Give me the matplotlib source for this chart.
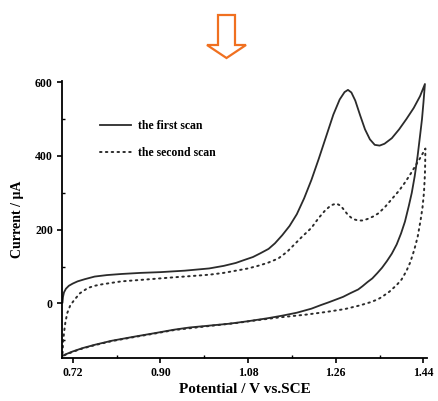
import numpy as np
import matplotlib
matplotlib.use("Agg")
import matplotlib.pyplot as plt
from matplotlib.patches import Polygon
from matplotlib.ticker import MultipleLocator

# first scan (solid): forward sweep then reverse sweep
v1_fwd = [0.699, 0.700, 0.702, 0.706, 0.712, 0.72, 0.73, 0.745, 0.765, 0.79, 0.82, 0.86,
          0.90, 0.95, 1.00, 1.03, 1.055, 1.07, 1.09, 1.105, 1.122, 1.135, 1.15, 1.165,
          1.18, 1.195, 1.21, 1.225, 1.24, 1.255, 1.268, 1.278, 1.285, 1.292, 1.30, 1.31,
          1.32, 1.33, 1.34, 1.35, 1.36, 1.375, 1.39, 1.405, 1.42, 1.433, 1.443]
i1_fwd = [3, 18, 30, 40, 48, 54, 60, 66, 73, 77, 80, 83,
          85, 89, 95, 102, 110, 117, 126, 136, 148, 163, 185, 210,
          242, 285, 335, 392, 452, 512, 553, 573, 579, 572, 550, 510,
          472, 445, 430, 428, 433, 448, 472, 500, 530, 562, 595]
v1_rev = [1.443, 1.440, 1.437, 1.433, 1.428, 1.422, 1.416, 1.41, 1.402, 1.394, 1.385, 1.375,
          1.365, 1.355, 1.345, 1.335, 1.325, 1.315, 1.306, 1.29, 1.275, 1.259, 1.245, 1.23,
          1.21, 1.18, 1.15, 1.12, 1.08, 1.04, 1.00, 0.96, 0.928, 0.89, 0.846, 0.80,
          0.765, 0.74, 0.72, 0.705, 0.699]
i1_rev = [595, 545, 500, 455, 400, 345, 300, 265, 222, 190, 160, 135,
          115, 97, 82, 68, 58, 47, 38, 28, 18, 10, 3, -4,
          -14, -25, -33, -40, -48, -55, -60, -65, -71, -80, -90, -101,
          -112, -121, -130, -138, -142]

# second scan (dotted)
v2_fwd = [0.699, 0.700, 0.702, 0.705, 0.709, 0.715, 0.724, 0.735, 0.751, 0.765, 0.78, 0.80,
          0.82, 0.87, 0.928, 0.97, 1.00, 1.03, 1.055, 1.08, 1.10, 1.12, 1.142, 1.16,
          1.175, 1.19, 1.21, 1.225, 1.238, 1.25, 1.261, 1.27, 1.278, 1.285, 1.295, 1.306,
          1.315, 1.325, 1.337, 1.347, 1.36, 1.375, 1.39, 1.401, 1.412, 1.423, 1.434, 1.444]
i2_fwd = [-135, -110, -80, -50, -25, -5, 11, 28, 42, 48, 52, 56,
          60, 65, 71, 75, 78, 83, 89, 95, 102, 110, 122, 140,
          160, 180, 205, 232, 252, 266, 271, 265, 252, 240, 229, 225,
          225, 229, 236, 244, 260, 283, 306, 326, 348, 372, 396, 420]
v2_rev = [1.444, 1.4435, 1.443, 1.441, 1.438, 1.434, 1.428, 1.421, 1.413, 1.405, 1.395, 1.385,
          1.37, 1.355, 1.346, 1.33, 1.31, 1.279, 1.24, 1.20, 1.142, 1.10, 1.055, 1.00,
          0.928, 0.89, 0.846, 0.80, 0.765, 0.74, 0.72, 0.705, 0.699]
i2_rev = [420, 380, 350, 300, 260, 225, 180, 145, 112, 88, 65, 50,
          32, 18, 11, 3, -5, -15, -23, -30, -38, -45, -53, -61,
          -72, -81, -91, -102, -113, -122, -131, -139, -143]

xticks = [0.72, 0.90, 1.08, 1.26, 1.44]
yticks = [0, 200, 400, 600]

plt.rcParams['font.family'] = ['Liberation Serif', 'DejaVu Serif']
plt.rcParams['font.weight'] = 'bold'

fig = plt.figure(figsize=(4.38, 4.01), dpi=100)
ax = fig.add_axes([0.1416, 0.107, 0.833, 0.69])

line_col = '#2b2b2b'
ax.plot(v1_fwd + v1_rev, i1_fwd + i1_rev, color=line_col, lw=1.3, label='the first scan')
ax.plot(v2_fwd + v2_rev, i2_fwd + i2_rev, color=line_col, lw=1.4,
        linestyle=(0, (0.8, 2.2)), dash_capstyle='round', label='the second scan')

ax.set_xlim(0.698, 1.447)
ax.set_ylim(-148, 602)
ax.set_xticks(xticks)
ax.set_yticks(yticks)
ax.set_xticklabels(['%.2f' % t for t in xticks], fontsize=8.5, fontweight='bold')
ax.set_yticklabels([str(t) for t in yticks], fontsize=8.5, fontweight='bold')
ax.xaxis.set_minor_locator(MultipleLocator(0.09))
ax.yaxis.set_minor_locator(MultipleLocator(100))
ax.tick_params(which='major', direction='out', length=3.5, width=1.2, pad=3)
ax.tick_params(which='minor', direction='in', length=2.5, width=1.0)

for s in ['top', 'right']:
    ax.spines[s].set_visible(False)
for s in ['left', 'bottom']:
    ax.spines[s].set_linewidth(1.3)

ax.set_xlabel('Potential / V vs.SCE', fontsize=11, fontweight='bold', labelpad=3)
ax.set_ylabel('Current / \u03bcA', fontsize=10, fontweight='bold', labelpad=8)

ax.legend(loc='upper left', bbox_to_anchor=(0.075, 0.898), frameon=False,
          handlelength=2.6, handletextpad=0.6, labelspacing=1.28,
          prop={'weight': 'bold', 'size': 8.5})

# orange hollow arrow above the plot
W, H = 438.0, 401.0
arrow_px = [(218, 15), (235, 15), (235, 45), (246, 45), (226.5, 58), (207, 45), (218, 45)]
arrow = Polygon([(x / W, 1 - y / H) for x, y in arrow_px], closed=True,
                transform=fig.transFigure, facecolor='white', edgecolor='#f07020', lw=1.6)
fig.patches.append(arrow)

fig.savefig('out.png', dpi=100)
